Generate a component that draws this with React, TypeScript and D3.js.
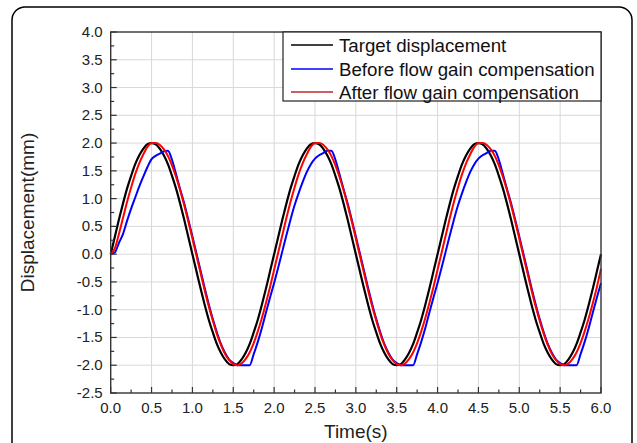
import React from "react";
import * as d3 from "d3";

const xTicks = [0, 0.5, 1, 1.5, 2, 2.5, 3, 3.5, 4, 4.5, 5, 5.5, 6];
const yTicks = [-2.5, -2, -1.5, -1, -0.5, 0, 0.5, 1, 1.5, 2, 2.5, 3, 3.5, 4];
const seriesNames = ["Target displacement", "Before flow gain compensation", "After flow gain compensation"];
const seriesColors = ["#000000", "#0000ff", "#ff0000"];

// sample times, 0.05 s apart
const times = d3.range(0, 121).map((i) => i * 0.05);

const target = [
  0, 0.31, 0.62, 0.91, 1.18, 1.41, 1.62, 1.78, 1.9, 1.98, 2.0, 1.98, 1.9, 1.78, 1.62, 1.41, 1.18, 0.91, 0.62, 0.31,
  0, -0.31, -0.62, -0.91, -1.18, -1.41, -1.62, -1.78, -1.9, -1.98, -2.0, -1.98, -1.9, -1.78, -1.62, -1.41, -1.18, -0.91, -0.62, -0.31,
  0, 0.31, 0.62, 0.91, 1.18, 1.41, 1.62, 1.78, 1.9, 1.98, 2.0, 1.98, 1.9, 1.78, 1.62, 1.41, 1.18, 0.91, 0.62, 0.31,
  0, -0.31, -0.62, -0.91, -1.18, -1.41, -1.62, -1.78, -1.9, -1.98, -2.0, -1.98, -1.9, -1.78, -1.62, -1.41, -1.18, -0.91, -0.62, -0.31,
  0, 0.31, 0.62, 0.91, 1.18, 1.41, 1.62, 1.78, 1.9, 1.98, 2.0, 1.98, 1.9, 1.78, 1.62, 1.41, 1.18, 0.91, 0.62, 0.31,
  0, -0.31, -0.62, -0.91, -1.18, -1.41, -1.62, -1.78, -1.9, -1.98, -2.0, -1.98, -1.9, -1.78, -1.62, -1.41, -1.18, -0.91, -0.62, -0.31,
  0,
];

const before = [
  0, 0.03, 0.2, 0.36, 0.6, 0.82, 1.02, 1.22, 1.4, 1.57, 1.71, 1.77, 1.81, 1.85, 1.86, 1.7, 1.44, 1.17, 0.91, 0.62,
  0.32, 0.01, -0.3, -0.61, -0.9, -1.17, -1.41, -1.62, -1.78, -1.9, -1.96, -2.0, -2.0, -2.0, -2.0, -1.8, -1.58, -1.33, -1.05, -0.78,
  -0.52, -0.24, 0.05, 0.34, 0.62, 0.88, 1.1, 1.3, 1.48, 1.62, 1.72, 1.78, 1.82, 1.86, 1.86, 1.7, 1.44, 1.17, 0.91, 0.62,
  0.32, 0.01, -0.3, -0.61, -0.9, -1.17, -1.41, -1.62, -1.78, -1.9, -1.96, -2.0, -2.0, -2.0, -2.0, -1.8, -1.58, -1.33, -1.05, -0.78,
  -0.52, -0.24, 0.05, 0.34, 0.62, 0.88, 1.1, 1.3, 1.48, 1.62, 1.72, 1.78, 1.82, 1.86, 1.86, 1.7, 1.44, 1.17, 0.91, 0.62,
  0.32, 0.01, -0.3, -0.61, -0.9, -1.17, -1.41, -1.62, -1.78, -1.9, -1.96, -2.0, -2.0, -2.0, -2.0, -1.8, -1.58, -1.33, -1.05, -0.78,
  -0.52,
];

const after = [
  0, 0.1, 0.36, 0.65, 0.94, 1.2, 1.44, 1.64, 1.8, 1.93, 2.0, 2.0, 1.97, 1.89, 1.77, 1.6, 1.39, 1.15, 0.88, 0.59,
  0.28, -0.03, -0.34, -0.65, -0.94, -1.2, -1.44, -1.64, -1.8, -1.91, -1.98, -2.0, -1.97, -1.89, -1.77, -1.6, -1.39, -1.15, -0.88, -0.59,
  -0.28, 0.03, 0.34, 0.65, 0.94, 1.2, 1.44, 1.64, 1.8, 1.93, 2.0, 2.0, 1.97, 1.89, 1.77, 1.6, 1.39, 1.15, 0.88, 0.59,
  0.28, -0.03, -0.34, -0.65, -0.94, -1.2, -1.44, -1.64, -1.8, -1.91, -1.98, -2.0, -1.97, -1.89, -1.77, -1.6, -1.39, -1.15, -0.88, -0.59,
  -0.28, 0.03, 0.34, 0.65, 0.94, 1.2, 1.44, 1.64, 1.8, 1.93, 2.0, 2.0, 1.97, 1.89, 1.77, 1.6, 1.39, 1.15, 0.88, 0.59,
  0.28, -0.03, -0.34, -0.65, -0.94, -1.2, -1.44, -1.64, -1.8, -1.91, -1.98, -2.0, -1.97, -1.89, -1.77, -1.6, -1.39, -1.15, -0.88, -0.59,
  -0.26,
];

const W = 637;
const H = 443;
const L = 110.7;
const R = 601;
const T = 32;
const B = 393;
const FONT = "'Liberation Sans', Arial, Helvetica, sans-serif";

export default function App() {
  const x = d3.scaleLinear().domain([0, 6]).range([L, R]);
  const y = d3.scaleLinear().domain([-2.5, 4]).range([B, T]);
  const line = d3
    .line<number>()
    .x((_, i) => x(times[i]))
    .y((d) => y(d))
    .curve(d3.curveMonotoneX);

  const xMinor = d3.range(0, 24).map((i) => i * 0.25 + 0.25).filter((v) => v < 6 && Math.abs(v * 2 - Math.round(v * 2)) > 1e-6);
  const yMinor = d3.range(0, 26).map((i) => -2.5 + i * 0.25 + 0.25).filter((v) => v < 4 && Math.abs(v * 2 - Math.round(v * 2)) > 1e-6);

  const series = [target, before, after];
  const legX0 = 283;
  const legY0 = T;
  const rowYs = [45, 69, 92];

  return (
    <svg
      width={W}
      height={H}
      viewBox={`0 0 ${W} ${H}`}
      style={{ position: "fixed", left: 0, top: 0, background: "#fff" }}
      fontFamily={FONT}
    >
      <rect x={0} y={0} width={W} height={H} fill="#fff" />
      <rect x={12} y={7} width={620} height={520} rx={13} ry={13} fill="none" stroke="#000" strokeWidth={1.5} />

      {/* grid */}
      {xTicks.slice(1, -1).map((t) => (
        <line key={"gx" + t} x1={x(t)} x2={x(t)} y1={T} y2={B} stroke="#d8d8d8" strokeWidth={1} />
      ))}
      {yTicks.slice(1, -1).map((t) => (
        <line key={"gy" + t} x1={L} x2={R} y1={y(t)} y2={y(t)} stroke="#d8d8d8" strokeWidth={1} />
      ))}

      {/* series */}
      {series.map((s, i) => (
        <path key={"s" + i} d={line(s) || ""} fill="none" stroke={seriesColors[i]} strokeWidth={i === 0 ? 2.2 : 2} strokeLinejoin="round" />
      ))}

      {/* frame */}
      <rect x={L} y={T} width={R - L} height={B - T} fill="none" stroke="#333" strokeWidth={1.4} />

      {/* ticks */}
      {xTicks.map((t) => (
        <line key={"tx" + t} x1={x(t)} x2={x(t)} y1={B} y2={B - 6} stroke="#333" strokeWidth={1.2} />
      ))}
      {xMinor.map((t) => (
        <line key={"mx" + t} x1={x(t)} x2={x(t)} y1={B} y2={B - 3.5} stroke="#333" strokeWidth={1.2} />
      ))}
      {yTicks.map((t) => (
        <line key={"ty" + t} x1={L} x2={L + 6} y1={y(t)} y2={y(t)} stroke="#333" strokeWidth={1.2} />
      ))}
      {yMinor.map((t) => (
        <line key={"my" + t} x1={L} x2={L + 3.5} y1={y(t)} y2={y(t)} stroke="#333" strokeWidth={1.2} />
      ))}

      {/* tick labels */}
      {xTicks.map((t) => (
        <text key={"lx" + t} x={x(t)} y={B + 20} textAnchor="middle" fontSize={15} fill="#222">
          {t.toFixed(1)}
        </text>
      ))}
      {yTicks.map((t) => (
        <text key={"ly" + t} x={L - 8} y={y(t) + 5} textAnchor="end" fontSize={15} fill="#222">
          {t.toFixed(1)}
        </text>
      ))}

      {/* axis titles */}
      <text x={(L + R) / 2} y={438} textAnchor="middle" fontSize={19} fill="#222">
        Time(s)
      </text>
      <text
        transform={`translate(34, ${(T + B) / 2}) rotate(-90)`}
        textAnchor="middle"
        fontSize={19}
        fill="#222"
      >
        Displacement(mm)
      </text>

      {/* legend */}
      <rect x={legX0} y={legY0} width={R - legX0} height={101 - legY0} fill="#fff" stroke="#222" strokeWidth={1.2} />
      {seriesNames.map((n, i) => (
        <g key={"lg" + i}>
          <line x1={291} x2={333} y1={rowYs[i]} y2={rowYs[i]} stroke={i === 2 ? "#c0282d" : seriesColors[i]} strokeWidth={1.6} />
          <text x={339} y={rowYs[i] + 6.5} fontSize={18.7} fill="#111">
            {n}
          </text>
        </g>
      ))}
    </svg>
  );
}
